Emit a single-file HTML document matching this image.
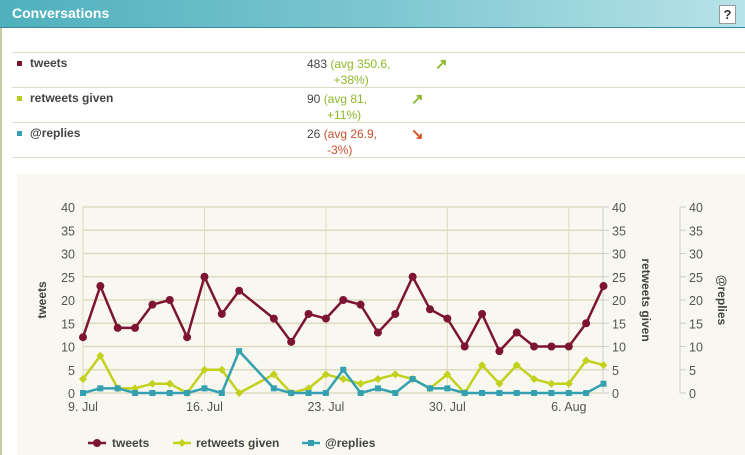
<!DOCTYPE html>
<html><head><meta charset="utf-8"><style>
body{margin:0;width:745px;height:455px;overflow:hidden;background:#fff;font-family:"Liberation Sans",sans-serif;position:relative}
.hdr{position:absolute;left:0;top:0;width:745px;height:27px;background:linear-gradient(to right,#4fb0bd,#7cc6d0 50%,#b8e3e8);border-bottom:1px solid #3a8b95}
.hdr span{position:absolute;left:12px;top:5px;color:#fff;font-weight:bold;font-size:14px}
.q{position:absolute;left:719px;top:5px;width:15px;height:17px;background:#fff;border:1px solid #999;font-weight:bold;font-size:13px;text-align:center;line-height:17px;color:#333}
.lb{position:absolute;left:0;top:28px;width:2px;height:427px;background:#c8cc9c}
.row{position:absolute;left:12px;width:733px;border-top:1px solid #dedbc7;height:34px;font-size:12px;color:#444}
.row .sq{position:absolute;left:5px;top:8px;width:5px;height:5px}
.row .n{position:absolute;left:18px;top:3px;font-weight:bold}
.row .v{position:absolute;top:3px;line-height:16px}
.ar{position:absolute;top:2px;font-weight:bold;font-size:15px}
.panel{position:absolute;left:17px;top:174px;width:728px;height:281px;background:#f8f7f0}
</style></head><body>
<div class="hdr"><span>Conversations</span><div class="q">?</div></div>
<div class="lb"></div>
<div class="row" style="top:52px"><div class="sq" style="background:#7a1530"></div><div class="n">tweets</div><div class="v" style="left:295px">483 <span style="color:#8db82a">(avg 350.6,<br>&nbsp;&nbsp;&nbsp;&nbsp;&nbsp;&nbsp;&nbsp;&nbsp;+38%)</span></div><div class="ar" style="left:423px;color:#8db82a">↗</div></div>
<div class="row" style="top:87px"><div class="sq" style="background:#b8cc1e"></div><div class="n">retweets given</div><div class="v" style="left:295px">90 <span style="color:#8db82a">(avg 81,<br>&nbsp;&nbsp;&nbsp;&nbsp;&nbsp;&nbsp;+11%)</span></div><div class="ar" style="left:399px;color:#8db82a">↗</div></div>
<div class="row" style="top:122px;border-bottom:1px solid #dedbc7"><div class="sq" style="background:#34a0b0"></div><div class="n">@replies</div><div class="v" style="left:295px">26 <span style="color:#c8502a">(avg 26.9,<br>&nbsp;&nbsp;&nbsp;&nbsp;&nbsp;&nbsp;-3%)</span></div><div class="ar" style="left:399px;color:#d85020">↘</div></div>
<div class="panel"></div>
<svg id="s" width="745" height="455" style="position:absolute;left:0;top:0" font-family="Liberation Sans, sans-serif"></svg>
<script>
var s='',X=d=>83+d*17.35,Y=v=>393-v*4.65;
for(var v=0;v<=40;v+=5){var y=Y(v);s+=`<line x1="83" x2="603" y1="${y}" y2="${y}" stroke="#dcdbbf" stroke-width="1.5"/>`;
s+=`<text x="75" y="${y+5}" text-anchor="end" font-size="12.5" fill="#555">${v}</text>`;
s+=`<line x1="603" x2="609" y1="${y}" y2="${y}" stroke="#ccc"/><text x="612" y="${y+5}" font-size="12.5" fill="#555">${v}</text>`;
s+=`<line x1="680" x2="686" y1="${y}" y2="${y}" stroke="#ccc"/><text x="689" y="${y+5}" font-size="12.5" fill="#555">${v}</text>`;}
s+=`<line x1="603" x2="603" y1="207" y2="393" stroke="#ccc"/><line x1="680" x2="680" y1="207" y2="393" stroke="#ccc"/>`;
[[0,'9. Jul'],[7,'16. Jul'],[14,'23. Jul'],[21,'30. Jul'],[28,'6. Aug']].forEach(a=>{var x=X(a[0]);s+=`<line x1="${x}" x2="${x}" y1="207" y2="393" stroke="#dcdbbf"/><text x="${x}" y="411" text-anchor="middle" font-size="12.5" fill="#555">${a[1]}</text>`});
s+=`<text transform="translate(46,300) rotate(-90)" text-anchor="middle" font-size="12" font-weight="bold" fill="#444">tweets</text>`;
s+=`<text transform="translate(642,300) rotate(90)" text-anchor="middle" font-size="12" font-weight="bold" fill="#444">retweets given</text>`;
s+=`<text transform="translate(718,300) rotate(90)" text-anchor="middle" font-size="12" font-weight="bold" fill="#444">@replies</text>`;
var D=[0,1,2,3,4,5,6,7,8,9,11,12,13,14,15,16,17,18,19,20,21,22,23,24,25,26,27,28,29,30];
var T=[12,23,14,14,19,20,12,25,17,22,16,11,17,16,20,19,13,17,25,18,16,10,17,9,13,10,10,10,15,23];
var R=[3,8,1,1,2,2,0,5,5,0,4,0,1,4,3,2,3,4,3,1,4,0,6,2,6,3,2,2,7,6];
var P=[0,1,1,0,0,0,0,1,0,9,1,0,0,0,5,0,1,0,3,1,1,0,0,0,0,0,0,0,0,2];
function ser(V,c,m){var p=D.map((d,i)=>X(d)+','+Y(V[i])).join(' ');s+=`<polyline points="${p}" fill="none" stroke="${c}" stroke-width="2.5" stroke-linejoin="round"/>`;
D.forEach((d,i)=>{var x=X(d),y=Y(V[i]);if(m==0)s+=`<circle cx="${x}" cy="${y}" r="4" fill="${c}"/>`;else if(m==1)s+=`<path d="M${x} ${y-4}L${x+4} ${y}L${x} ${y+4}L${x-4} ${y}Z" fill="${c}"/>`;else s+=`<rect x="${x-3}" y="${y-3}" width="6" height="6" fill="${c}"/>`;});}
ser(R,'#c2d21c',1);ser(P,'#34a0b0',2);ser(T,'#7d1532',0);
s+=`<line x1="88" x2="106" y1="443" y2="443" stroke="#7d1532" stroke-width="2.5"/><circle cx="97" cy="443" r="4" fill="#7d1532"/><text x="112" y="447" font-size="12" font-weight="bold" fill="#444">tweets</text>`;
s+=`<line x1="173" x2="191" y1="443" y2="443" stroke="#c2d21c" stroke-width="2.5"/><path d="M182 439L186 443L182 447L178 443Z" fill="#c2d21c"/><text x="196" y="447" font-size="12" font-weight="bold" fill="#444">retweets given</text>`;
s+=`<line x1="302" x2="320" y1="443" y2="443" stroke="#34a0b0" stroke-width="2.5"/><rect x="308" y="440" width="6" height="6" fill="#34a0b0"/><text x="325" y="447" font-size="12" font-weight="bold" fill="#444">@replies</text>`;
document.getElementById('s').innerHTML=s;
</script>
</body></html>
